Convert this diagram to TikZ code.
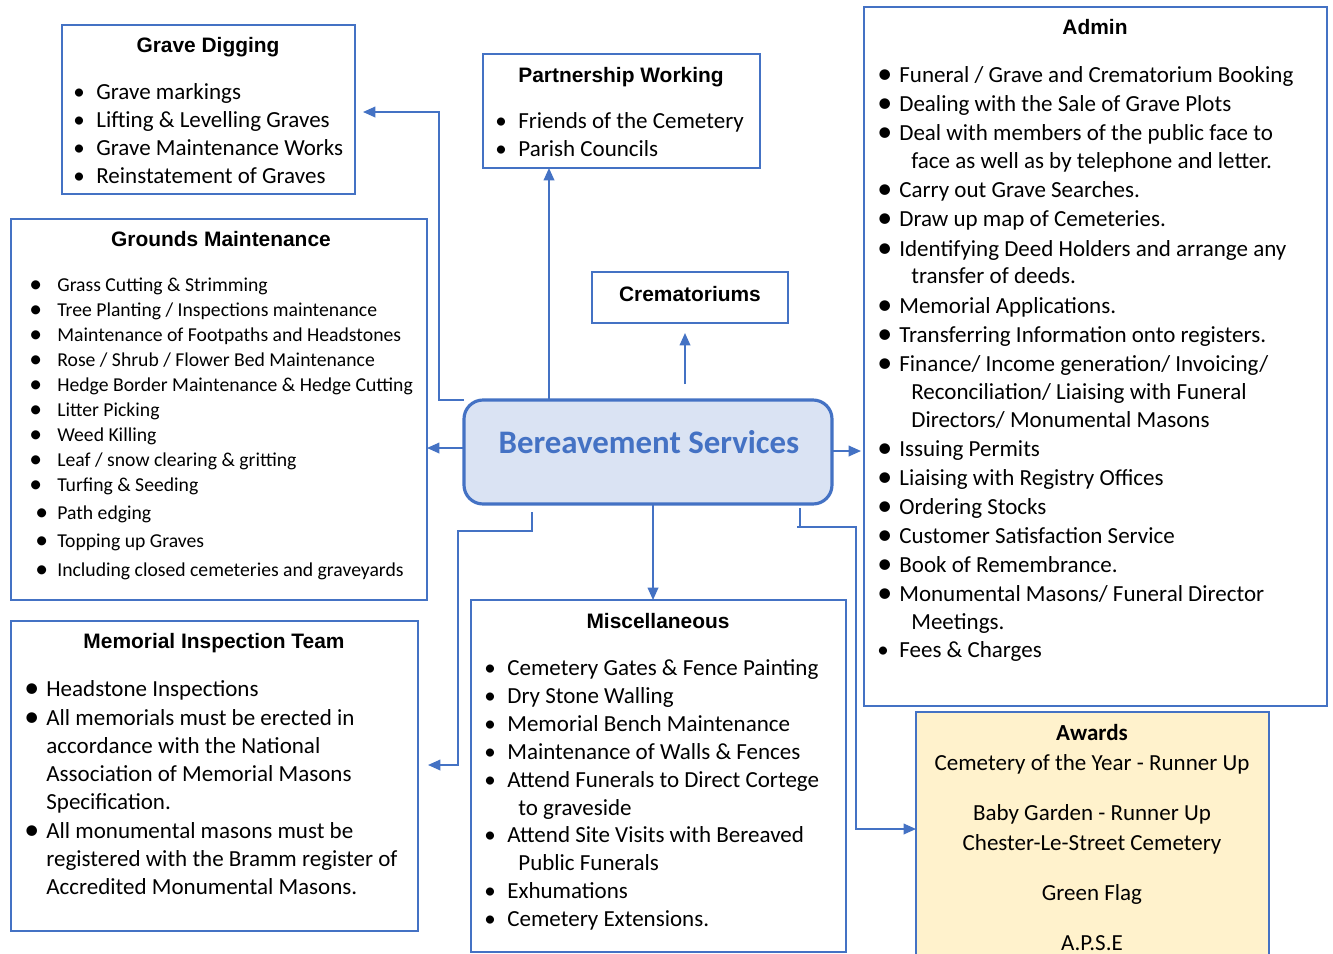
\documentclass[tikz,border=0pt]{standalone}
\usepackage{fontspec}
\setmainfont{Carlito}
\newfontfamily\arialf{Liberation Sans}
\usetikzlibrary{arrows.meta,fit}
\definecolor{bluec}{HTML}{4472C4}
\definecolor{bsfill}{HTML}{DAE3F3}
\definecolor{awfill}{HTML}{FFF2CC}
\newlength\px \setlength\px{0.02cm}
% bullet line: style, name, bullet x, gap to text, y, text
\newcommand\bi[6]{\node[#1] (#2) at (#3,#5) {\makebox[#4\px][l]{\textbullet}#6};}
\newcommand\hbi[6]{\node[#1] (#2) at (#3,#5) {\makebox[#4\px][l]{\raisebox{-0.12ex}{\scalebox{1.3}{\textbullet}}}#6};}
% continuation line: style, name, x, y, text
\newcommand\ci[5]{\node[#1] (#2) at (#3,#4) {#5};}
\begin{document}
\begin{tikzpicture}[x=0.02cm,y=-0.02cm,
 box/.style={draw=bluec,line width=0.8pt,inner sep=0pt,outer sep=0pt},
 conn/.style={draw=bluec,line width=1pt,-{Triangle[length=7pt,width=6pt]}},
 ttl/.style={font=\arialf\bfseries\fontsize{11.9}{14}\selectfont,inner sep=0pt,anchor=mid,yshift=-0.085cm},
 txt/.style={font=\fontsize{13.1}{15}\selectfont,inner sep=0pt,anchor=mid west,yshift=-0.06cm},
 stxt/.style={font=\fontsize{11.2}{13}\selectfont,inner sep=0pt,anchor=mid west,yshift=-0.05cm},
 ctxt/.style={font=\fontsize{13.1}{15}\selectfont,inner sep=0pt,anchor=mid,yshift=-0.06cm}]
\useasboundingbox (0,0) rectangle (1333,954);
\fill[white] (0,0) rectangle (1333,954);

% ---------- boxes ----------
\node[box,fit={(62,25) (355,194)}] (gd) {};
\node[box,fit={(483,54) (760,168)}] (pw) {};
\node[box,fit={(864,7) (1327,706)}] (adm) {};
\node[box,fit={(11,219) (427,600)}] (gm) {};
\node[box,fit={(592,272) (788,323)}] (cr) {};
\node[box,fit={(11,621) (418,931)}] (mit) {};
\node[box,fit={(471,600) (846,952)}] (misc) {};
\node[box,fill=awfill,fit={(916,712) (1269,975)}] (aw) {};
\node[draw=bluec,fill=bsfill,line width=1.8pt,rounded corners=0.38cm,inner sep=0pt,outer sep=0pt,fit={(464,400) (832,504)}] (bs) {};
\node[font=\bfseries\fontsize{18.7}{22}\selectfont,text=bluec,inner sep=0pt] (bst) at (649,442) {Bereavement Services};

% ---------- titles ----------
\node[ttl] (gdt) at (208,44) {Grave Digging};
\node[ttl] (pwt) at (621,74) {Partnership Working};
\node[ttl] (admt) at (1095,26) {Admin};
\node[ttl] (gmt) at (221,238) {Grounds Maintenance};
\node[ttl] (crt) at (690,293) {Crematoriums};
\node[ttl] (mitt) at (214,640) {Memorial Inspection Team};
\node[ttl] (misct) at (658,620) {Miscellaneous};
\node[ctxt,font=\bfseries\fontsize{13.1}{15}\selectfont] (awt) at (1092,733) {Awards};

% ---------- Grave Digging ----------
\bi{txt}{gd1}{73}{23}{92}{Grave markings}
\bi{txt}{gd2}{73}{23}{120}{Lifting \& Levelling Graves}
\bi{txt}{gd3}{73}{23}{148}{Grave Maintenance Works}
\bi{txt}{gd4}{73}{23}{176}{Reinstatement of Graves}

% ---------- Partnership ----------
\bi{txt}{pw1}{495}{23}{121}{Friends of the Cemetery}
\bi{txt}{pw2}{495}{23}{149}{Parish Councils}

% ---------- Admin ----------
\hbi{txt}{ad1}{877}{22}{75}{Funeral / Grave and Crematorium Booking}
\hbi{txt}{ad2}{877}{22}{104}{Dealing with the Sale of Grave Plots}
\hbi{txt}{ad3}{877}{22}{133}{Deal with members of the public face to}
\ci{txt}{ad3b}{911}{161}{face as well as by telephone and letter.}
\hbi{txt}{ad4}{877}{22}{190}{Carry out Grave Searches.}
\hbi{txt}{ad5}{877}{22}{219}{Draw up map of Cemeteries.}
\hbi{txt}{ad6}{877}{22}{249}{Identifying Deed Holders and arrange any}
\ci{txt}{ad6b}{911}{276}{transfer of deeds.}
\hbi{txt}{ad7}{877}{22}{306}{Memorial Applications.}
\hbi{txt}{ad8}{877}{22}{335}{Transferring Information onto registers.}
\hbi{txt}{ad9}{877}{22}{364}{Finance/ Income generation/ Invoicing/}
\ci{txt}{ad9b}{911}{392}{Reconciliation/ Liaising with Funeral}
\ci{txt}{ad9c}{911}{420}{Directors/ Monumental Masons}
\hbi{txt}{ad10}{877}{22}{449}{Issuing Permits}
\hbi{txt}{ad11}{877}{22}{478}{Liaising with Registry Offices}
\hbi{txt}{ad12}{877}{22}{507}{Ordering Stocks}
\hbi{txt}{ad13}{877}{22}{536}{Customer Satisfaction Service}
\hbi{txt}{ad14}{877}{22}{565}{Book of Remembrance.}
\hbi{txt}{ad15}{877}{22}{594}{Monumental Masons/ Funeral Director}
\ci{txt}{ad15b}{911}{622}{Meetings.}
\bi{txt}{ad16}{877}{22}{650}{Fees \& Charges}

% ---------- Grounds Maintenance ----------
\hbi{stxt}{gm1}{29}{28}{285}{Grass Cutting \& Strimming}
\hbi{stxt}{gm2}{29}{28}{310}{Tree Planting / Inspections maintenance}
\hbi{stxt}{gm3}{29}{28}{335}{Maintenance of Footpaths and Headstones}
\hbi{stxt}{gm4}{29}{28}{360}{Rose / Shrub / Flower Bed Maintenance}
\hbi{stxt}{gm5}{29}{28}{385}{Hedge Border Maintenance \& Hedge Cutting}
\hbi{stxt}{gm6}{29}{28}{410}{Litter Picking}
\hbi{stxt}{gm7}{29}{28}{435}{Weed Killing}
\hbi{stxt}{gm8}{29}{28}{460}{Leaf / snow clearing \& gritting}
\hbi{stxt}{gm9}{29}{28}{485}{Turfing \& Seeding}
\hbi{stxt}{gm10}{35}{22}{513}{Path edging}
\hbi{stxt}{gm11}{35}{22}{541}{Topping up Graves}
\hbi{stxt}{gm12}{35}{22}{570}{Including closed cemeteries and graveyards}

% ---------- Memorial Inspection Team ----------
\hbi{txt}{mi1}{24}{22}{689}{Headstone Inspections}
\hbi{txt}{mi2}{24}{22}{718}{All memorials must be erected in}
\ci{txt}{mi2b}{46}{746}{accordance with the National}
\ci{txt}{mi2c}{46}{774}{Association of Memorial Masons}
\ci{txt}{mi2d}{46}{802}{Specification.}
\hbi{txt}{mi3}{24}{22}{831}{All monumental masons must be}
\ci{txt}{mi3b}{46}{859}{registered with the Bramm register of}
\ci{txt}{mi3c}{46}{887}{Accredited Monumental Masons.}

% ---------- Miscellaneous ----------
\bi{txt}{ms1}{484}{23}{668}{Cemetery Gates \& Fence Painting}
\bi{txt}{ms2}{484}{23}{696}{Dry Stone Walling}
\bi{txt}{ms3}{484}{23}{724}{Memorial Bench Maintenance}
\bi{txt}{ms4}{484}{23}{752}{Maintenance of Walls \& Fences}
\bi{txt}{ms5}{484}{23}{780}{Attend Funerals to Direct Cortege}
\ci{txt}{ms5b}{518}{808}{to graveside}
\bi{txt}{ms6}{484}{23}{835}{Attend Site Visits with Bereaved}
\ci{txt}{ms6b}{518}{863}{Public Funerals}
\bi{txt}{ms7}{484}{23}{891}{Exhumations}
\bi{txt}{ms8}{484}{23}{919}{Cemetery Extensions.}

% ---------- Awards ----------
\node[ctxt] (aw1) at (1092,763) {Cemetery of the Year - Runner Up};
\node[ctxt] (aw2) at (1092,813) {Baby Garden - Runner Up};
\node[ctxt] (aw3) at (1092,843) {Chester-Le-Street Cemetery};
\node[ctxt] (aw4) at (1092,893) {Green Flag};
\node[ctxt] (aw5) at (1092,943) {A.P.S.E};

% ---------- connectors ----------
\draw[conn,shorten >=8\px] (bs.north west) -- (439,400) -- (439,112) -- (gd.east |- 0,112);
\draw[conn] (549,0 |- bs.north) -- (549,0 |- pw.south);
\draw[conn,shorten <=16\px,shorten >=10\px] (685,0 |- bs.north) -- (685,0 |- cr.south);
\draw[conn] (bs.west |- 0,448) -- (gm.east |- 0,448);
\draw[conn,shorten >=3\px] (bs.east |- 0,451) -- (adm.west |- 0,451);
\draw[conn] (653,0 |- bs.south) -- (653,0 |- misc.north);
\coordinate (m0) at (532,512);
\draw[conn,shorten >=10\px] (m0) -- (532,531) -- (458,531) -- (458,765) -- (mit.east |- 0,765);
\coordinate (a0) at (800,508);
\draw[conn] (a0) -- (800,527) -- (797,527) -- (856,527) -- (856,829) -- (aw.west |- 0,829);
\end{tikzpicture}
\end{document}
